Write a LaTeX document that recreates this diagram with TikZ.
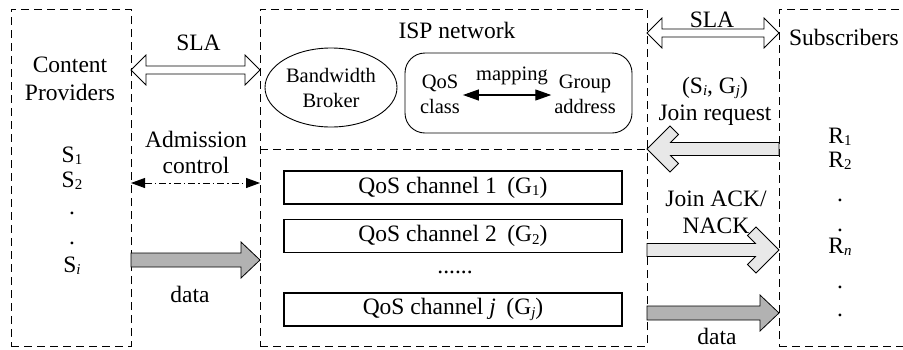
\documentclass[tikz,border=0pt]{standalone}
\usepackage{fontspec}
\setmainfont{Liberation Serif}
\usetikzlibrary{arrows.meta,shapes.geometric,calc}
\newcommand\sbs[1]{\raisebox{-0.1em}{\fontsize{15}{15}\selectfont #1}}
% horizontal double-headed fat arrow: style, left point, right point
\newcommand\hdouble[3]{\draw[#1] let \p1=(#2), \p2=(#3) in
  (\x1,\y1) -- (\x1+15pt,\y1+15pt) -- (\x1+15pt,\y1+4pt) -- (\x2-15pt,\y1+4pt)
  -- (\x2-15pt,\y1+15pt) -- (\x2,\y1) -- (\x2-15pt,\y1-15pt) -- (\x2-15pt,\y1-4pt)
  -- (\x1+15pt,\y1-4pt) -- (\x1+15pt,\y1-15pt) -- cycle;}
% horizontal single fat arrow pointing right: style, tail, tip
\newcommand\hsingle[3]{\draw[#1] let \p1=(#2), \p2=(#3) in
  (\x1,\y1+7pt) -- (\x2-19pt,\y1+7pt) -- (\x2-19pt,\y1+18pt) -- (\x2,\y1)
  -- (\x2-19pt,\y1-18pt) -- (\x2-19pt,\y1-7pt) -- (\x1,\y1-7pt) -- cycle;}
% horizontal chevron-headed fat arrow: style, tail, tip, direction (1 = tail right of tip, -1 otherwise)
\newcommand\hchev[4]{\draw[#1] let \p1=(#2), \p2=(#3) in
  (\x2,\y2) -- ({\x2+#4*23pt},{\y2+23pt}) -- ({\x2+#4*31.5pt},{\y2+14.5pt})
  -- ({\x2+#4*23.5pt},{\y2+6.5pt}) -- (\x1,{\y2+6.5pt}) -- (\x1,{\y2-6.5pt})
  -- ({\x2+#4*23.5pt},{\y2-6.5pt}) -- ({\x2+#4*31.5pt},{\y2-14.5pt})
  -- ({\x2+#4*23pt},{\y2-23pt}) -- cycle;}
\begin{document}
\begin{tikzpicture}[x=1pt,y=-1pt,
  every node/.style={inner sep=0pt, outer sep=0pt},
  zone/.style={draw, dash pattern=on 8pt off 5pt, line width=0.9pt},
  lbl/.style={font=\fontsize{23.5}{28}\selectfont, anchor=base},
  slbl/.style={font=\fontsize{20.5}{25}\selectfont, align=center},
  chan/.style={draw, line width=1.1pt, minimum width=338pt, minimum height=33pt,
               font=\fontsize{23.5}{28}\selectfont},
  hollow/.style={draw, fill=white, line width=0.8pt, line join=miter},
  darkfill/.style={draw, fill=black!30, line width=0.8pt},
  lightfill/.style={draw, fill=black!9, line width=0.8pt},
]
\useasboundingbox (0,0) rectangle (903,349);
\fill[white] (0,0) rectangle (903,349);

% zones
\node[zone, minimum width=120pt, minimum height=337pt] (cp) at (71,177.5) {};
\node[zone, minimum width=387pt, minimum height=337pt] (isp) at (453.5,177.5) {};
\node[zone, minimum width=132pt, minimum height=337pt] (sub) at (845,177.5) {};
\draw[zone] (isp.west |- 0,149) -- (isp.east |- 0,149);

% content providers
\node[lbl] (cpt1) at (70,72) {Content};
\node[lbl] (cpt2) at (70,100) {Providers};
\node[lbl] (s1) at (72,162) {S\sbs{1}};
\node[lbl] (s2) at (72,187) {S\sbs{2}};
\node[lbl] (sd1) at (72,214) {.};
\node[lbl] (sd2) at (72,244) {.};
\node[lbl] (si) at (72,272) {S\sbs{\textit{i}}};

% left arrows
\node[lbl] (slaL) at (198.5,50) {SLA};
\hdouble{hollow}{cp.east |- 0,70}{isp.west |- 0,70}
\node[lbl] (adm1) at (196,147) {Admission};
\node[lbl] (adm2) at (196,173) {control};
\draw[line width=0.9pt, dash pattern=on 7pt off 3pt on 1.5pt off 3pt, {Triangle[length=14pt,width=10pt]}-{Triangle[length=14pt,width=10pt]}]
  (cp.east |- 0,183) -- (isp.west |- 0,183);
\hsingle{darkfill}{cp.east |- 0,260}{isp.west |- 0,260}
\node[lbl] (dataL) at (190,302) {data};

% ISP network
\node[lbl] (ispt) at (457,38) {ISP network};
\node[draw, ellipse, line width=0.9pt, minimum width=132pt, minimum height=79pt, slbl] (bb) at (331,87.5) {Bandwidth\\Broker};
\node[draw, rounded corners=20pt, line width=0.9pt, minimum width=227pt, minimum height=80pt] (qm) at (518.5,93) {};
\node[slbl, inner sep=3pt] (qc) at (440,94) {QoS\\class};
\node[slbl, inner sep=3pt] (ga) at (585,94) {Group\\address};
\node[slbl, anchor=base] (mp) at (512,80) {mapping};
\draw[line width=1.2pt, {Triangle[length=16pt,width=11pt]}-{Triangle[length=16pt,width=11pt]}]
  (qc.east |- 0,95) -- (ga.west |- 0,95);

% channels
\node[chan] (c1) at (453,187.5) {QoS channel 1\hspace{0.45em}(G\sbs{1})};
\node[chan] (c2) at (453,236) {QoS channel 2\hspace{0.45em}(G\sbs{2})};
\node[lbl] (cdots) at (455,273) {......};
\node[chan] (cj) at (453,309.5) {QoS channel \textit{j}\hspace{0.45em}(G\sbs{\textit{j}})};

% right arrows
\node[lbl] (slaR) at (712,27) {SLA};
\hdouble{hollow}{isp.east |- 0,33}{sub.west |- 0,33}
\node[lbl] (sg) at (715,93) {(S\sbs{\textit{i}}, G\sbs{\textit{j}})};
\node[lbl] (jr) at (715,120) {Join request};
\hchev{lightfill}{sub.west |- 0,149}{isp.east |- 0,149}{1}
\node[lbl] (ja1) at (716,206) {Join ACK/};
\node[lbl] (ja2) at (716,233) {NACK};
\hchev{lightfill}{isp.east |- 0,250}{sub.west |- 0,250}{-1}
\hsingle{darkfill}{isp.east |- 0,313}{sub.west |- 0,313}
\node[lbl] (dataR) at (717,344) {data};

% subscribers
\node[lbl] (subt) at (844,45) {Subscribers};
\node[lbl] (r1) at (840,143) {R\sbs{1}};
\node[lbl] (r2) at (840,167) {R\sbs{2}};
\node[lbl] (rd1) at (840,201) {.};
\node[lbl] (rd2) at (840,231) {.};
\node[lbl] (rn) at (840,253) {R\sbs{\textit{n}}};
\node[lbl] (rd3) at (840,288) {.};
\node[lbl] (rd4) at (840,316) {.};
\end{tikzpicture}
\end{document}
